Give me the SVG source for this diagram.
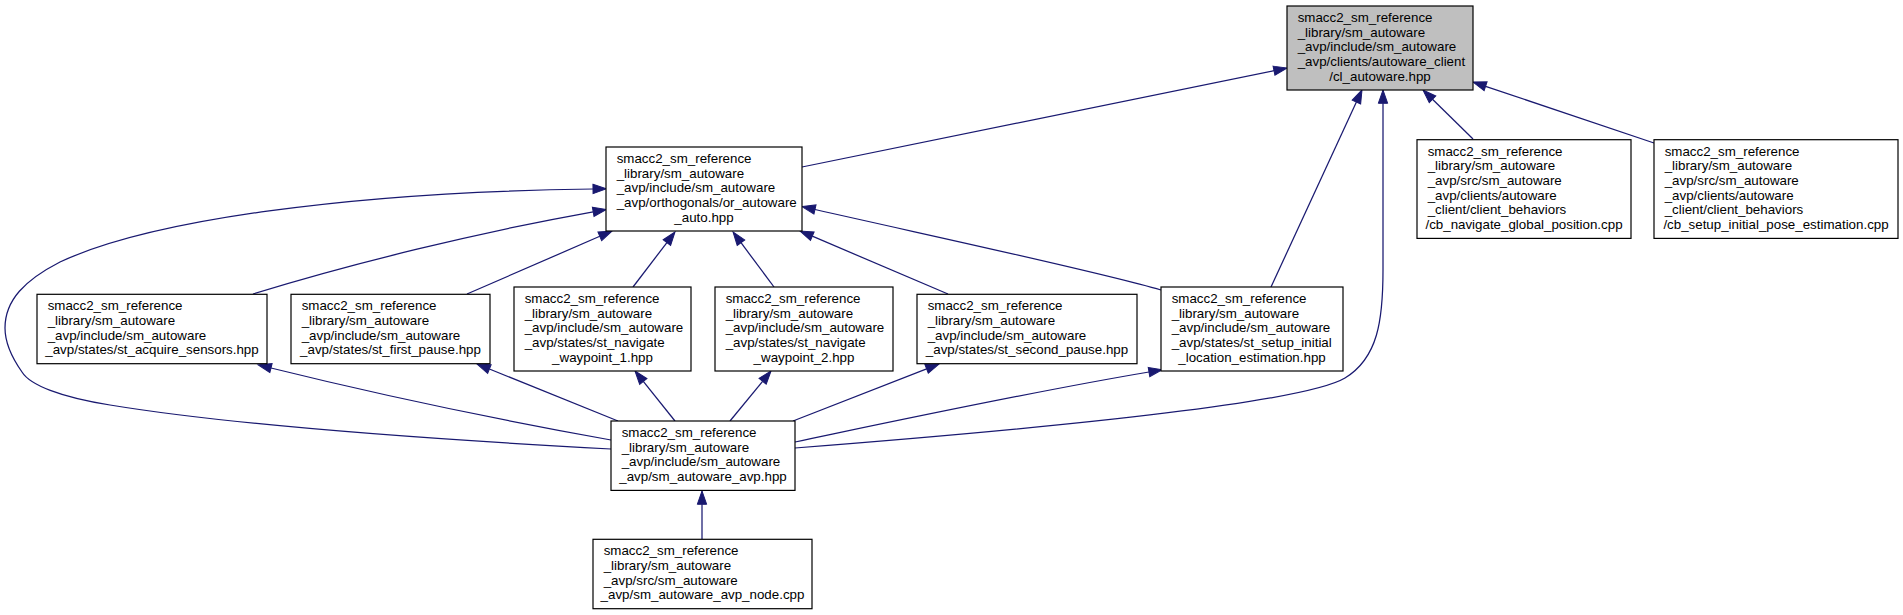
<svg xmlns="http://www.w3.org/2000/svg" width="1903" height="615" viewBox="0 0 1903 615">
<style>
.nd rect{fill:#ffffff;stroke:#000000;stroke-width:1.2}
.nd.root rect{fill:#bfbfbf}
.nd text{font-family:"Liberation Sans",Arial,Helvetica,sans-serif;font-size:13.33px;fill:#000000}
.nd text.c{text-anchor:middle}
.edges path{fill:none;stroke:#191970;stroke-width:1.25;marker-end:url(#ah)}
</style>
<defs>
<marker id="ah" viewBox="0 0 13.33 9.33" refX="0" refY="4.667" markerWidth="13.33" markerHeight="9.33" markerUnits="userSpaceOnUse" orient="auto" overflow="visible">
<path d="M0,0 L13.33,4.667 L0,9.33 z" fill="#191970" stroke="#191970" stroke-width="1"/>
</marker>
</defs>
<rect x="0" y="0" width="1903" height="615" fill="#ffffff"/>
<g class="edges" id="connectors">
<path d="M802,167 L1274,70.7"/>
<path d="M1473,139 L1432.5,99.3"/>
<path d="M1654,143 L1485.6,86.3"/>
<path d="M1271,287 L1356.4,102.1"/>
<path d="M795,448 C1000,432 1300,405 1345,378 C1378,358 1383,320 1383,270 L1383,103.3"/>
<path d="M253,294 C350,264 480,232 593.2,211.8"/>
<path d="M467,294 L599.8,236.3"/>
<path d="M633,287 L666.9,242.6"/>
<path d="M774,287 L741,242.7"/>
<path d="M948,294 L812.3,236.2"/>
<path d="M1161,290 C1100,272 950,240 815,209.5"/>
<path d="M611,449 C480,442 250,428 110,405 C60,397 30,385 22,372 C10,355 5,340 5,328 C5,300 25,280 60,262 C150,220 350,192 593,189"/>
<path d="M611,440 C500,420 380,395 271,368"/>
<path d="M618,421 L489.4,369"/>
<path d="M675,421 L643.3,381.4"/>
<path d="M730,421 L762.6,381.3"/>
<path d="M793,421 L926.6,368.9"/>
<path d="M795,442 C900,420 1030,392 1149,372"/>
<path d="M702,539 L702,504.3"/>
</g>
<g class="nd root" id="cl_autoware">
<rect x="1287" y="6" width="186" height="84"/>
<text x="1297.7" y="22">smacc2_sm_reference</text>
<text x="1297.7" y="36.7">_library/sm_autoware</text>
<text x="1297.7" y="51.3">_avp/include/sm_autoware</text>
<text x="1297.7" y="66">_avp/clients/autoware_client</text>
<text class="c" x="1380" y="80.7">/cl_autoware.hpp</text>
</g>
<g class="nd" id="cb_navigate_global_position">
<rect x="1417" y="139.7" width="214" height="98.7"/>
<text x="1427.7" y="155.7">smacc2_sm_reference</text>
<text x="1427.7" y="170.3">_library/sm_autoware</text>
<text x="1427.7" y="185">_avp/src/sm_autoware</text>
<text x="1427.7" y="199.7">_avp/clients/autoware</text>
<text x="1427.7" y="214.3">_client/client_behaviors</text>
<text class="c" x="1524" y="229">/cb_navigate_global_position.cpp</text>
</g>
<g class="nd" id="cb_setup_initial_pose_estimation">
<rect x="1654" y="139.7" width="244" height="98.7"/>
<text x="1664.7" y="155.7">smacc2_sm_reference</text>
<text x="1664.7" y="170.3">_library/sm_autoware</text>
<text x="1664.7" y="185">_avp/src/sm_autoware</text>
<text x="1664.7" y="199.7">_avp/clients/autoware</text>
<text x="1664.7" y="214.3">_client/client_behaviors</text>
<text class="c" x="1776" y="229">/cb_setup_initial_pose_estimation.cpp</text>
</g>
<g class="nd" id="or_autoware_auto">
<rect x="606" y="147" width="196" height="84"/>
<text x="616.7" y="163">smacc2_sm_reference</text>
<text x="616.7" y="177.7">_library/sm_autoware</text>
<text x="616.7" y="192.3">_avp/include/sm_autoware</text>
<text x="616.7" y="207">_avp/orthogonals/or_autoware</text>
<text class="c" x="704" y="221.7">_auto.hpp</text>
</g>
<g class="nd" id="st_acquire_sensors">
<rect x="37" y="294.3" width="230" height="69.4"/>
<text x="47.7" y="310.3">smacc2_sm_reference</text>
<text x="47.7" y="325">_library/sm_autoware</text>
<text x="47.7" y="339.7">_avp/include/sm_autoware</text>
<text class="c" x="152" y="354.3">_avp/states/st_acquire_sensors.hpp</text>
</g>
<g class="nd" id="st_first_pause">
<rect x="291" y="294.3" width="199" height="69.4"/>
<text x="301.7" y="310.3">smacc2_sm_reference</text>
<text x="301.7" y="325">_library/sm_autoware</text>
<text x="301.7" y="339.7">_avp/include/sm_autoware</text>
<text class="c" x="390.5" y="354.3">_avp/states/st_first_pause.hpp</text>
</g>
<g class="nd" id="st_navigate_waypoint_1">
<rect x="514" y="287" width="177" height="84"/>
<text x="524.7" y="303">smacc2_sm_reference</text>
<text x="524.7" y="317.7">_library/sm_autoware</text>
<text x="524.7" y="332.3">_avp/include/sm_autoware</text>
<text x="524.7" y="347">_avp/states/st_navigate</text>
<text class="c" x="602.5" y="361.7">_waypoint_1.hpp</text>
</g>
<g class="nd" id="st_navigate_waypoint_2">
<rect x="715" y="287" width="178" height="84"/>
<text x="725.7" y="303">smacc2_sm_reference</text>
<text x="725.7" y="317.7">_library/sm_autoware</text>
<text x="725.7" y="332.3">_avp/include/sm_autoware</text>
<text x="725.7" y="347">_avp/states/st_navigate</text>
<text class="c" x="804" y="361.7">_waypoint_2.hpp</text>
</g>
<g class="nd" id="st_second_pause">
<rect x="917" y="294.3" width="220" height="69.4"/>
<text x="927.7" y="310.3">smacc2_sm_reference</text>
<text x="927.7" y="325">_library/sm_autoware</text>
<text x="927.7" y="339.7">_avp/include/sm_autoware</text>
<text class="c" x="1027" y="354.3">_avp/states/st_second_pause.hpp</text>
</g>
<g class="nd" id="st_setup_initial_location_estimation">
<rect x="1161" y="287" width="182" height="84"/>
<text x="1171.7" y="303">smacc2_sm_reference</text>
<text x="1171.7" y="317.7">_library/sm_autoware</text>
<text x="1171.7" y="332.3">_avp/include/sm_autoware</text>
<text x="1171.7" y="347">_avp/states/st_setup_initial</text>
<text class="c" x="1252" y="361.7">_location_estimation.hpp</text>
</g>
<g class="nd" id="sm_autoware_avp">
<rect x="611" y="421" width="184" height="69.4"/>
<text x="621.7" y="437">smacc2_sm_reference</text>
<text x="621.7" y="451.7">_library/sm_autoware</text>
<text x="621.7" y="466.3">_avp/include/sm_autoware</text>
<text class="c" x="703" y="481">_avp/sm_autoware_avp.hpp</text>
</g>
<g class="nd" id="sm_autoware_avp_node">
<rect x="593" y="539.3" width="219" height="69.4"/>
<text x="603.7" y="555.3">smacc2_sm_reference</text>
<text x="603.7" y="570">_library/sm_autoware</text>
<text x="603.7" y="584.7">_avp/src/sm_autoware</text>
<text class="c" x="702.5" y="599.3">_avp/sm_autoware_avp_node.cpp</text>
</g>
</svg>
